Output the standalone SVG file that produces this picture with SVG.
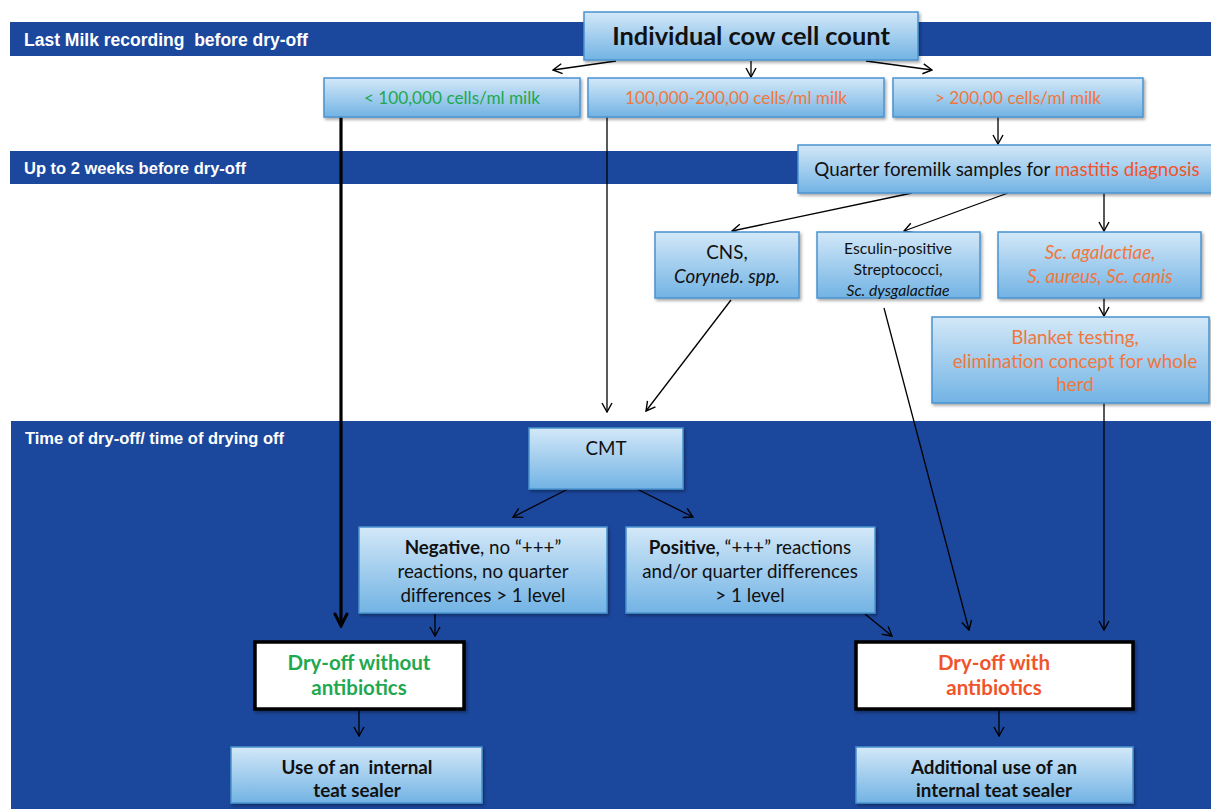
<svg xmlns="http://www.w3.org/2000/svg" width="1211" height="809" viewBox="0 0 1211 809">
<defs>
<linearGradient id="g" x1="0" y1="0" x2="0" y2="1">
<stop offset="0" stop-color="#d3e8f8"/>
<stop offset="1" stop-color="#72b3e4"/>
</linearGradient>
<filter id="sh" x="-10%" y="-10%" width="125%" height="140%">
<feDropShadow dx="1.5" dy="2" stdDeviation="1.5" flood-color="#000" flood-opacity="0.35"/>
</filter>
<marker id="ah" viewBox="0 0 12 12" refX="11" refY="6" markerWidth="12" markerHeight="12" orient="auto" markerUnits="userSpaceOnUse">
<path d="M2,1 L11,6 L2,11" fill="none" stroke="#000" stroke-width="1.4"/>
</marker>
<marker id="ahb" viewBox="0 0 16 16" refX="14" refY="8" markerWidth="16" markerHeight="16" orient="auto" markerUnits="userSpaceOnUse">
<path d="M2,2 L14,8 L2,14" fill="none" stroke="#000" stroke-width="3" stroke-linejoin="miter" stroke-linecap="round"/>
</marker>
</defs>
<style>
.band{fill:#1b479d}
.bl{font-family:"Liberation Sans",Arial,sans-serif;font-weight:bold;font-size:16.5px;fill:#fff;white-space:pre}
.box{fill:url(#g);stroke:#4a93cf;stroke-width:1.5;filter:url(#sh)}
.wbox{fill:#fff;stroke:#000;stroke-width:3.5;filter:url(#sh)}
.t{font-family:Lato,"Open Sans",sans-serif;font-size:18.8px;fill:#111;text-anchor:middle;white-space:pre}
.s{font-size:15.7px}
.b{font-weight:bold}
.i{font-style:italic}
.gr{fill:#1fa84f}
.or{fill:#f0773e}
.rd{fill:#f1542a}
.ln{stroke:#000;stroke-width:1.3;fill:none;marker-end:url(#ah)}
.lnb{stroke:#000;stroke-width:3.2;fill:none;marker-end:url(#ahb)}
</style>

<g id="bands">
<rect class="band" x="10" y="22" width="1201" height="34"/>
<text class="bl" x="24" y="46" style="font-size:17.5px">Last Milk recording  before dry-off</text>
<rect class="band" x="10" y="151" width="1201" height="33"/>
<text class="bl" x="24" y="174">Up to 2 weeks before dry-off</text>
<rect class="band" x="11" y="421" width="1200" height="388"/>
<text class="bl" x="25" y="444">Time of dry-off/ time of drying off</text>
</g>

<g id="connectors">
<line class="ln" x1="616" y1="61" x2="553" y2="70"/>
<line class="ln" x1="751" y1="61" x2="751" y2="77"/>
<line class="ln" x1="866" y1="61" x2="932" y2="70"/>
<line class="ln" x1="998" y1="117" x2="998" y2="144"/>
<line class="lnb" x1="341" y1="117" x2="341" y2="626"/>
<line class="ln" x1="607" y1="117" x2="607" y2="412"/>
<line class="ln" x1="912" y1="193" x2="732" y2="231"/>
<line class="ln" x1="1008" y1="193" x2="904" y2="231"/>
<line class="ln" x1="1104" y1="193" x2="1104" y2="231"/>
<line class="ln" x1="1104" y1="298" x2="1104" y2="316"/>
<line class="ln" x1="731" y1="300" x2="646" y2="411"/>
<line class="ln" x1="884" y1="308" x2="969" y2="630"/>
<line class="ln" x1="1104" y1="403" x2="1104" y2="630"/>
<line class="ln" x1="568" y1="489" x2="513" y2="517"/>
<line class="ln" x1="637" y1="489" x2="693" y2="517"/>
<line class="ln" x1="435" y1="613" x2="435" y2="636"/>
<line class="ln" x1="865" y1="614" x2="892" y2="636"/>
<line class="ln" x1="359" y1="709" x2="359" y2="736"/>
<line class="ln" x1="999" y1="709" x2="999" y2="736"/>
</g>

<g id="n-top">
<rect class="box" x="584" y="12" width="334" height="48"/>
<text class="t b" x="751" y="45" style="font-size:25.4px">Individual cow cell count</text>
</g>
<g id="n-low">
<rect class="box" x="324" y="78" width="256" height="39"/>
<text class="t gr" x="452" y="104" style="font-size:17.2px">&lt; 100,000 cells/ml milk</text>
</g>
<g id="n-mid">
<rect class="box" x="588" y="78" width="296" height="39"/>
<text class="t or" x="736" y="104" style="font-size:17.2px">100,000-200,00 cells/ml milk</text>
</g>
<g id="n-high">
<rect class="box" x="893" y="78" width="250" height="39"/>
<text class="t or" x="1018" y="104" style="font-size:17.2px">&gt; 200,00 cells/ml milk</text>
</g>
<g id="n-quarter">
<rect class="box" x="798" y="145" width="420" height="48"/>
<text class="t" x="1007" y="176">Quarter foremilk samples for <tspan class="rd">mastitis diagnosis</tspan></text>
</g>
<g id="n-cns">
<rect class="box" x="655" y="232" width="144" height="66"/>
<text class="t" x="727" y="259">CNS,</text>
<text class="t i" x="727" y="283">Coryneb. spp.</text>
</g>
<g id="n-esculin">
<rect class="box" x="817" y="232" width="163" height="66"/>
<text class="t s" x="898" y="254">Esculin-positive</text>
<text class="t s" x="898" y="275">Streptococci,</text>
<text class="t s i" x="898" y="296">Sc. dysgalactiae</text>
</g>
<g id="n-agal">
<rect class="box" x="998" y="232" width="203" height="66"/>
<text class="t i or" x="1100" y="259">Sc. agalactiae,</text>
<text class="t i or" x="1100" y="283">S. aureus, Sc. canis</text>
</g>
<g id="n-blanket">
<rect class="box" x="932" y="317" width="277" height="86"/>
<text class="t or" x="1075" y="344">Blanket testing,</text>
<text class="t or" x="1075" y="368">elimination concept for whole</text>
<text class="t or" x="1075" y="391">herd</text>
</g>
<g id="n-cmt">
<rect class="box" x="529" y="428" width="154" height="61"/>
<text class="t" x="606" y="455">CMT</text>
</g>
<g id="n-negative">
<rect class="box" x="359" y="527" width="248" height="86"/>
<text class="t" x="483" y="554"><tspan class="b">Negative</tspan>, no “+++”</text>
<text class="t" x="483" y="578">reactions, no quarter</text>
<text class="t" x="483" y="602">differences &gt; 1 level</text>
</g>
<g id="n-positive">
<rect class="box" x="626" y="527" width="249" height="86"/>
<text class="t" x="750" y="554"><tspan class="b">Positive</tspan>, “+++” reactions</text>
<text class="t" x="750" y="578">and/or quarter differences</text>
<text class="t" x="750" y="602">&gt; 1 level</text>
</g>
<g id="n-dry-without">
<rect class="wbox" x="255" y="642" width="209" height="67"/>
<text class="t b gr" x="359" y="670" style="font-size:20.5px">Dry-off without</text>
<text class="t b gr" x="359" y="695" style="font-size:20.5px">antibiotics</text>
</g>
<g id="n-dry-with">
<rect class="wbox" x="856" y="642" width="277" height="67"/>
<text class="t b rd" x="994" y="670" style="font-size:20.5px">Dry-off with</text>
<text class="t b rd" x="994" y="695" style="font-size:20.5px">antibiotics</text>
</g>
<g id="n-sealer">
<rect class="box" x="231" y="747" width="251" height="56"/>
<text class="t b" x="357" y="774">Use of an  internal</text>
<text class="t b" x="357" y="797">teat sealer</text>
</g>
<g id="n-add-sealer">
<rect class="box" x="856" y="747" width="277" height="56"/>
<text class="t b" x="994" y="774">Additional use of an</text>
<text class="t b" x="994" y="797">internal teat sealer</text>
</g>
</svg>
